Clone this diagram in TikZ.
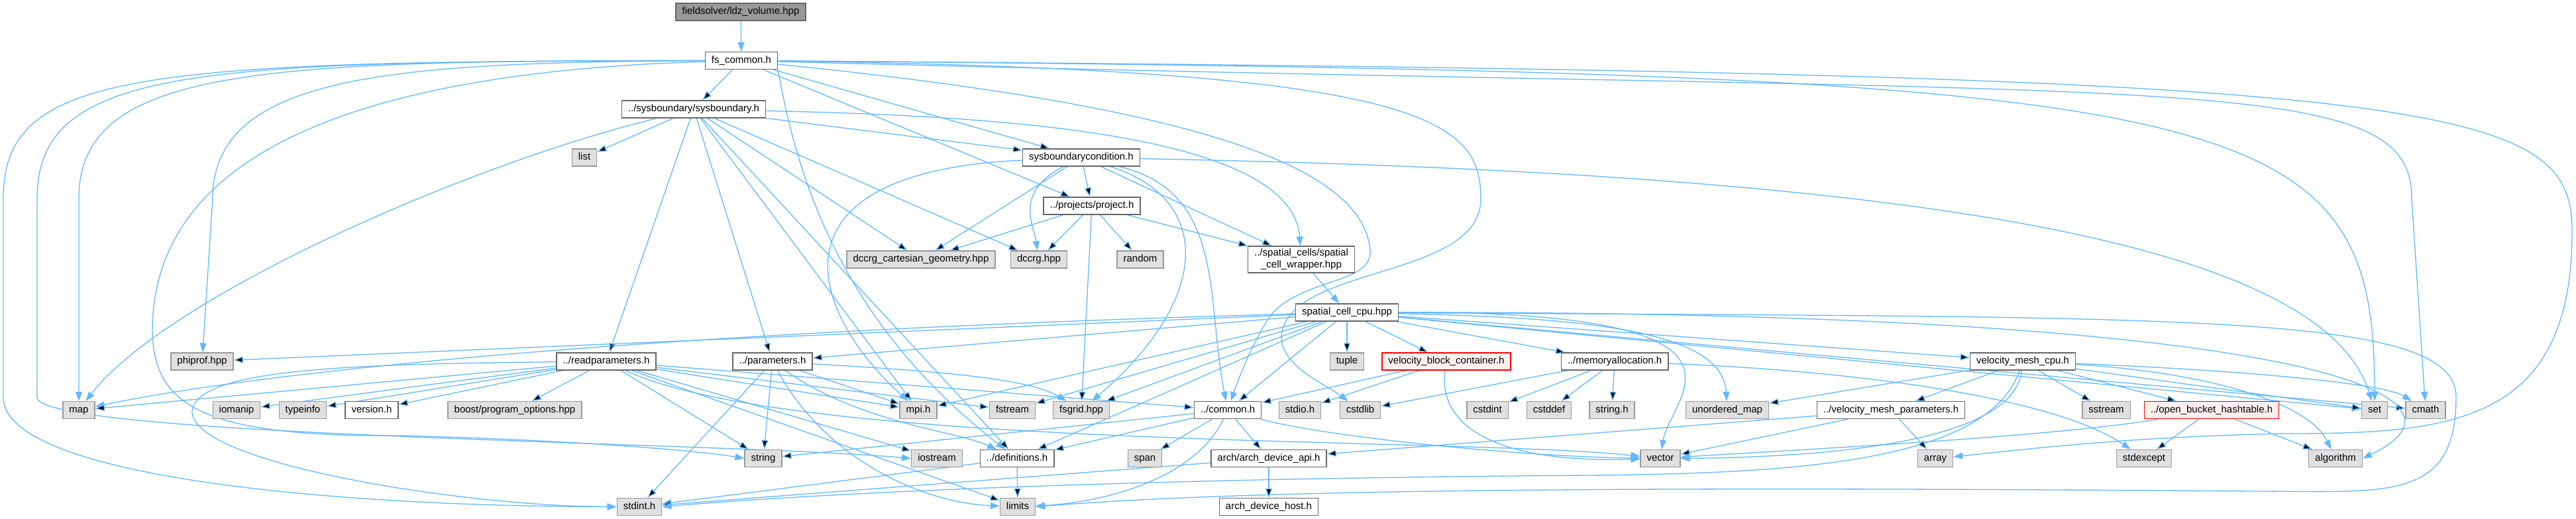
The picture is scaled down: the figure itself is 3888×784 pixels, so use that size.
\documentclass[tikz,border=0pt]{standalone}
\usepackage{fontspec}
\setmainfont{Liberation Sans}
\usetikzlibrary{arrows.meta,backgrounds}
\definecolor{edgeblue}{HTML}{63B8FF}
\definecolor{boxgrey}{HTML}{E0E0E0}
\definecolor{linegrey}{HTML}{999999}
\definecolor{darkline}{HTML}{666666}
\definecolor{pinkfill}{HTML}{FFF0F0}
\tikzset{>={Triangle[length=14pt,width=10pt]},
  incl/.style={->, draw=edgeblue, line width=1.3pt},
  box/.style={rectangle, line width=1.4pt, inner xsep=9.5pt, inner ysep=0pt,
    minimum height=26pt, font=\fontsize{15}{18}\selectfont},
  hdr/.style={box, draw=darkline, fill=white, text height=11pt, text depth=3.5pt},
  sysinc/.style={box, draw=linegrey, fill=boxgrey, text height=11pt, text depth=3.5pt},
  rootfile/.style={box, draw=darkline, fill=linegrey, text height=11pt, text depth=3.5pt},
  trunc/.style={box, draw=red, fill=pinkfill, text height=11pt, text depth=3.5pt},
  wrapbox/.style={box, draw=darkline, fill=white, align=center, minimum height=40pt, inner ysep=2pt}
}

\begin{document}
\begin{tikzpicture}[x=1pt,y=1pt]
  \useasboundingbox (0,0) rectangle (3888,-784);

  % rows of the include graph
  \node[rootfile] (ldz) at (1118,-18) {fieldsolver/ldz\_volume.hpp};
  \node[hdr] (fscommon) at (1119,-91.5) {fs\_common.h};
  \node[hdr] (sysbnd) at (1047,-165) {../sysboundary/sysboundary.h};
  \node[sysinc] (list) at (882,-238) {list};
  \node[hdr] (sbcond) at (1632,-238) {sysboundarycondition.h};
  \node[hdr] (project) at (1648,-311) {../projects/project.h};
  \node[sysinc] (dccrgcg) at (1390,-392) {dccrg\_cartesian\_geometry.hpp};
  \node[sysinc] (dccrg) at (1568,-392) {dccrg.hpp};
  \node[sysinc] (random) at (1721,-392) {random};
  \node[wrapbox] (wrapper) at (1964,-392) {../spatial\_cells/spatial\\\_cell\_wrapper.hpp};
  \node[hdr] (cellcpu) at (2033,-472) {spatial\_cell\_cpu.hpp};

  \node[sysinc] (phiprof) at (305,-546) {phiprof.hpp};
  \node[hdr] (readpar) at (915,-546) {../readparameters.h};
  \node[hdr] (params) at (1166,-546) {../parameters.h};
  \node[sysinc] (tuple) at (2033,-546) {tuple};
  \node[trunc] (vbc) at (2183,-546) {velocity\_block\_container.h};
  \node[hdr] (memalloc) at (2437,-546) {../memoryallocation.h};
  \node[hdr] (vmcpu) at (3053,-546) {velocity\_mesh\_cpu.h};

  \node[sysinc] (map) at (119,-619.5) {map};
  \node[sysinc] (iomanip) at (357,-619.5) {iomanip};
  \node[sysinc] (typeinfo) at (457,-619.5) {typeinfo};
  \node[hdr] (version) at (561,-619.5) {version.h};
  \node[sysinc] (boostpo) at (777,-619.5) {boost/program\_options.hpp};
  \node[sysinc] (mpi) at (1386,-619.5) {mpi.h};
  \node[sysinc] (fstream) at (1528,-619.5) {fstream};
  \node[sysinc] (fsgrid) at (1632,-619.5) {fsgrid.hpp};
  \node[hdr] (common) at (1853,-619.5) {../common.h};
  \node[sysinc] (stdio) at (1962,-619.5) {stdio.h};
  \node[sysinc] (cstdlib) at (2053,-619.5) {cstdlib};
  \node[sysinc] (cstdint) at (2245,-619.5) {cstdint};
  \node[sysinc] (cstddef) at (2338,-619.5) {cstddef};
  \node[sysinc] (stringh) at (2433,-619.5) {string.h};
  \node[sysinc] (umap) at (2607,-619.5) {unordered\_map};
  \node[hdr] (vmparams) at (2854,-619.5) {../velocity\_mesh\_parameters.h};
  \node[sysinc] (sstream) at (3179,-619.5) {sstream};
  \node[trunc] (obh) at (3338,-619.5) {../open\_bucket\_hashtable.h};
  \node[sysinc] (set) at (3584,-619.5) {set};
  \node[sysinc] (cmath) at (3661,-619.5) {cmath};

  \node[sysinc] (string) at (1152,-692.5) {string};
  \node[sysinc] (iostream) at (1414,-692.5) {iostream};
  \node[hdr] (defs) at (1535,-692.5) {../definitions.h};
  \node[sysinc] (span) at (1728,-692.5) {span};
  \node[hdr] (archapi) at (1915,-692.5) {arch/arch\_device\_api.h};
  \node[sysinc] (vector) at (2506,-692.5) {vector};
  \node[sysinc] (array) at (2921,-692.5) {array};
  \node[sysinc] (stdexcept) at (3236,-692.5) {stdexcept};
  \node[sysinc] (algorithm) at (3525,-692.5) {algorithm};

  \node[sysinc] (stdint) at (965,-765.5) {stdint.h};
  \node[sysinc] (limits) at (1536,-765.5) {limits};
  \node[hdr] (archhost) at (1915,-765.5) {arch\_device\_host.h};

  \begin{scope}[on background layer]
  \fill[white] (0,0) rectangle (3888,-784);

  \draw[incl] (ldz) -- (fscommon);

  % fs_common.h
  \draw[incl] (fscommon) edge (sysbnd) edge (sbcond) edge (project);
  \draw[incl] (fscommon.west) .. controls (400,-92) and (119,-100) .. (119,-300) -- (map);
  \draw[incl] (fscommon.west) .. controls (600,-95) and (321,-110) .. (321,-300) -- (phiprof);
  \draw[incl] (fscommon.west) .. controls (200,-92) and (5,-110) .. (5,-300) -- (5,-600)
    .. controls (5,-720) and (500,-765) .. (stdint.west);
  \draw[incl] (fscommon.west) .. controls (300,-93) and (56,-100) .. (56,-300) -- (56,-600)
    .. controls (56,-660) and (1100,-668) .. (iostream.west);
  \draw[incl] (fscommon) .. controls (500,-110) and (230,-250) .. (230,-500)
    .. controls (232,-610) and (300,-660) .. (600,-658) .. controls (850,-664) and (1050,-680) .. (string.west);
  \draw[incl] (fscommon.south east) .. controls (1200,-250) and (1260,-480) .. (defs);
  \draw[incl] (fscommon) .. controls (1800,-160) and (2060,-250) .. (2068,-380)
    .. controls (2070,-430) and (1960,-420) .. (1915,-480) .. controls (1890,-520) and (1870,-570) .. (common);
  \draw[incl] (fscommon) .. controls (2150,-105) and (2235,-180) .. (2235,-300)
    .. controls (2235,-420) and (1960,-400) .. (1935,-500) .. controls (1925,-550) and (2000,-580) .. (cstdlib);
  \draw[incl] (fscommon) .. controls (3400,-110) and (3584,-150) .. (set);
  \draw[incl] (fscommon) .. controls (3300,-150) and (3640,-100) .. (3640,-300) -- (cmath);
  \draw[incl] (fscommon) .. controls (3700,-110) and (3882,-150) .. (3882,-350)
    .. controls (3882,-640) and (3700,-655) .. (3450,-655) .. controls (3200,-660) and (3050,-680) .. (array);

  % sysboundary.h
  \draw[incl] (sysbnd) edge (list) edge (sbcond) edge (readpar) edge (params) edge (mpi)
    edge (dccrgcg) edge (dccrg) edge (defs);
  \draw[incl] (sysbnd) .. controls (700,-250) and (250,-450) .. (map);
  \draw[incl] (sysbnd) .. controls (1500,-175) and (1950,-200) .. (wrapper);

  % sysboundarycondition.h
  \draw[incl] (sbcond) edge (dccrgcg) edge (project) edge (wrapper);
  \draw[incl] (sbcond) .. controls (1530,-290) and (1560,-340) .. (dccrg);
  \draw[incl] (sbcond) .. controls (1850,-290) and (1820,-450) .. (common);
  \draw[incl] (sbcond) .. controls (1830,-300) and (1830,-450) .. (fsgrid);
  \draw[incl] (sbcond) .. controls (1150,-260) and (1220,-470) .. (mpi);
  \draw[incl] (sbcond) .. controls (2800,-260) and (3500,-350) .. (set);

  % project.h
  \draw[incl] (project) edge (dccrgcg) edge (dccrg) edge (random) edge (wrapper) edge (fsgrid);

  \draw[incl] (wrapper) -- (cellcpu);

  % spatial_cell_cpu.hpp
  \draw[incl] (cellcpu) edge (tuple) edge (vbc) edge (memalloc) edge (vmcpu) edge (common)
    edge (fsgrid) edge (fstream) edge (mpi) edge (params) edge (phiprof) edge (defs)
    edge (set) edge (cmath);
  \draw[incl] (cellcpu) .. controls (1000,-500) and (400,-560) .. (map);
  \draw[incl] (cellcpu) .. controls (2400,-480) and (2600,-500) .. (umap);
  \draw[incl] (cellcpu) .. controls (2700,-470) and (2520,-600) .. (vector);
  \draw[incl] (cellcpu) .. controls (3500,-470) and (3760,-600) .. (algorithm.east);
  \draw[incl] (cellcpu) .. controls (3300,-480) and (3707,-470) .. (3707,-600)
    .. controls (3707,-760) and (3600,-742) .. (3400,-742) .. controls (2500,-735) and (1900,-738) .. (limits.east);

  % readparameters.h
  \draw[incl] (readpar) edge (iomanip) edge (typeinfo) edge (version) edge (boostpo) edge (map)
    edge (mpi) edge (fstream) edge (common) edge (string) edge (iostream) edge (limits);
  \draw[incl] (readpar) .. controls (500,-550) and (300,-560) .. (290,-620)
    .. controls (285,-700) and (700,-765) .. (stdint.west);
  \draw[incl] (readpar) .. controls (1200,-680) and (2200,-660) .. (vector);

  % parameters.h
  \draw[incl] (params) edge (stdint) edge (string) edge (mpi);
  \draw[incl] (params) .. controls (1250,-700) and (1400,-760) .. (limits);
  \draw[incl] (params) .. controls (1300,-640) and (1440,-650) .. (defs);
  \draw[incl] (params) .. controls (1400,-560) and (1550,-570) .. (fsgrid);

  % common.h
  \draw[incl] (common) edge (defs) edge (span) edge (archapi) edge (string);
  \draw[incl] (common) .. controls (1800,-730) and (1650,-760) .. (limits);
  \draw[incl] (common) .. controls (2000,-660) and (2300,-690) .. (vector);

  \draw[incl] (defs) edge (limits) edge (stdint);
  \draw[incl] (archapi) edge (archhost) edge (stdint);

  % velocity_block_container.h, memoryallocation.h
  \draw[incl] (vbc) edge (common) edge (stdio);
  \draw[incl] (vbc) .. controls (2170,-640) and (2250,-700) .. (vector);
  \draw[incl] (memalloc) edge (cstdlib) edge (cstdint) edge (cstddef) edge (stringh);
  \draw[incl] (memalloc) .. controls (2800,-560) and (3100,-600) .. (stdexcept);

  % velocity_mesh_cpu.h
  \draw[incl] (vmcpu) edge (vmparams) edge (sstream) edge (obh) edge (set) edge (umap);
  \draw[incl] (vmcpu) .. controls (3400,-560) and (3600,-580) .. (cmath);
  \draw[incl] (vmcpu) .. controls (3300,-560) and (3480,-600) .. (algorithm);
  \draw[incl] (vmcpu) .. controls (3040,-660) and (2800,-690) .. (vector.east);
  \draw[incl] (vmcpu) .. controls (3000,-700) and (2700,-715) .. (2400,-718)
    .. controls (1800,-722) and (1300,-740) .. (stdint.east);

  \draw[incl] (vmparams) edge (array) edge (vector) edge (archapi);
  \draw[incl] (obh) edge (stdexcept) edge (algorithm);
  \draw[incl] (obh) .. controls (3100,-660) and (2700,-680) .. (vector);
  \end{scope}
\end{tikzpicture}
\end{document}
